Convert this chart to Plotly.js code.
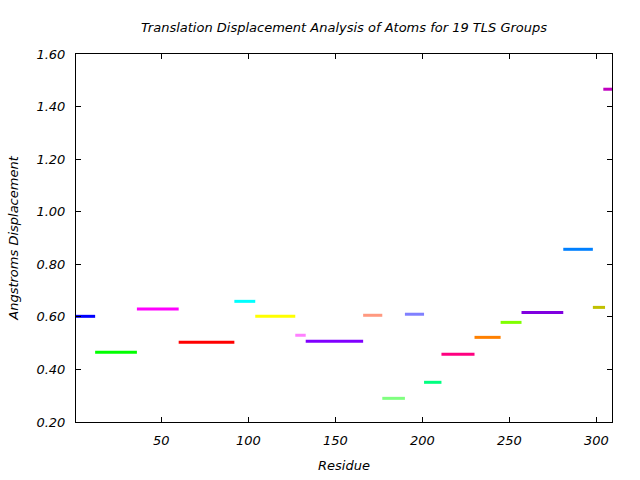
<!DOCTYPE html>
<html>
<head>
<meta charset="utf-8">
<script src="https://cdn.plot.ly/plotly-3.0.1.min.js"></script>
<style>html,body{margin:0;padding:0;background:#fff;}#chart{width:640px;height:480px;}</style>
</head>
<body>
<div id="chart"></div>
<script>
// TLS group residue ranges and translation displacement
const groupStart = [1, 12, 36, 60, 92, 104, 127, 133, 166, 177, 190, 201, 211, 230, 245, 257, 281, 298, 304];
const groupEnd   = [12, 36, 60, 92, 104, 127, 133, 166, 177, 190, 201, 211, 230, 245, 257, 281, 298, 305, 310];
const displacement = [0.602, 0.465, 0.630, 0.503, 0.659, 0.602, 0.530, 0.507, 0.606, 0.290, 0.610, 0.351, 0.458, 0.522, 0.579, 0.617, 0.857, 0.636, 1.466];
const groupColors = ["#0000ff", "#00ff00", "#ff00ff", "#ff0000", "#00ffff", "#ffff00", "#ff80ff", "#8000ff",
  "#ff9980", "#80ff80", "#8080ff", "#00ff80", "#ff0080", "#ff8000", "#80ff00", "#8000e0", "#0080ff", "#c0c000", "#c000c0"];
const xTicks = [50, 100, 150, 200, 250, 300];
const yTicks = [0.2, 0.4, 0.6, 0.8, 1.0, 1.2, 1.4, 1.6];

const traces = groupStart.map((s, i) => ({
  type: 'scatter', mode: 'lines',
  x: [s, groupEnd[i]], y: [displacement[i], displacement[i]],
  line: {color: groupColors[i], width: 3},
  showlegend: false, hoverinfo: 'skip'
}));

const fnt = {family: 'DejaVu Sans', size: 13, color: '#000', style: 'italic'};
const layout = {
  width: 640, height: 480,
  margin: {l: 76, r: 28, t: 54, b: 58},
  paper_bgcolor: '#fff', plot_bgcolor: '#fff',
  font: fnt,
  title: {text: 'Translation Displacement Analysis of Atoms for 19 TLS Groups',
          font: fnt,
          x: 0.5375, xanchor: 'center', y: 0.943, yanchor: 'middle'},
  xaxis: {range: [1, 309], tickvals: xTicks, ticktext: xTicks.map(String),
          showgrid: false, zeroline: false, showline: true, linecolor: '#000', linewidth: 1,
          mirror: 'allticks', ticks: 'inside', ticklen: 5, tickcolor: '#000',
          tickfont: fnt, ticklabelstandoff: 6,
          title: {text: 'Residue', font: fnt, standoff: 14}},
  yaxis: {range: [0.2, 1.6], tickvals: yTicks, ticktext: yTicks.map(v => v.toFixed(2)),
          showgrid: false, zeroline: false, showline: true, linecolor: '#000', linewidth: 1,
          mirror: 'allticks', ticks: 'inside', ticklen: 5, tickcolor: '#000',
          tickfont: fnt, ticklabelstandoff: 7,
          title: {text: 'Angstroms Displacement', font: fnt, standoff: 14}}
};
Plotly.newPlot('chart', traces, layout, {staticPlot: true});
</script>
</body>
</html>
